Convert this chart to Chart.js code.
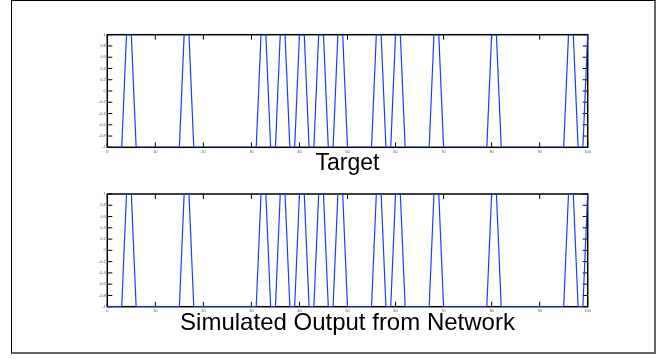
<!DOCTYPE html>
<html lang="en">
<head>
  <meta charset="UTF-8" />
  <title>Target vs Simulated Output</title>
  <script src="https://cdn.jsdelivr.net/npm/chart.js"></script>
  <style>
    body {
      margin: 0;
      background-color: white;
      width: 662px;
      height: 359px;
      position: relative;
      overflow: hidden;
    }
    .frame {
      position: absolute;
      left: 11px;
      top: 0px;
      width: 642px;
      height: 351px;
      border-left: 1px solid #000;
      border-top: 1px solid #000;
      border-right: 2px solid #666;
      border-bottom: 2px solid #666;
    }
    canvas {
      position: absolute;
      left: 0;
    }
    #targetChart {
      top: 0;
    }
    #outputChart {
      top: 180px;
    }
  </style>
</head>
<body>
  <div class="frame"></div>
  <canvas id="targetChart" width="662" height="180"></canvas>
  <canvas id="outputChart" width="662" height="179"></canvas>

  <script>
    // sample index (x)
    const steps = [
      0, 1, 2, 3, 4, 5, 6, 7, 8, 9,
      10, 11, 12, 13, 14, 15, 16, 17, 18, 19,
      20, 21, 22, 23, 24, 25, 26, 27, 28, 29,
      30, 31, 32, 33, 34, 35, 36, 37, 38, 39,
      40, 41, 42, 43, 44, 45, 46, 47, 48, 49,
      50, 51, 52, 53, 54, 55, 56, 57, 58, 59,
      60, 61, 62, 63, 64, 65, 66, 67, 68, 69,
      70, 71, 72, 73, 74, 75, 76, 77, 78, 79,
      80, 81, 82, 83, 84, 85, 86, 87, 88, 89,
      90, 91, 92, 93, 94, 95, 96, 97, 98, 99,
      100
    ];

    const targetValues = [
      -1, -1, -1, -1, 1, 1, -1, -1, -1, -1,
      -1, -1, -1, -1, -1, -1, 1, 1, -1, -1,
      -1, -1, -1, -1, -1, -1, -1, -1, -1, -1,
      -1, -1, 1, 1, -1, -1, 1, 1, -1, -1,
      1, 1, -1, -1, 1, 1, -1, -1, 1, 1,
      -1, -1, -1, -1, -1, -1, 1, 1, -1, -1,
      1, 1, -1, -1, -1, -1, -1, -1, 1, 1,
      -1, -1, -1, -1, -1, -1, -1, -1, -1, -1,
      1, 1, -1, -1, -1, -1, -1, -1, -1, -1,
      -1, -1, -1, -1, -1, -1, 1, 1, -1, -1,
      1
    ];

    const outputValues = [
      -1, -1, -1, -1, 1, 1, -1, -1, -1, -1,
      -1, -1, -1, -1, -1, -1, 1, 1, -1, -1,
      -1, -1, -1, -1, -1, -1, -1, -1, -1, -1,
      -1, -1, 1, 1, -1, -1, 1, 1, -1, -1,
      1, 1, -1, -1, 1, 1, -1, -1, 1, 1,
      -1, -1, -1, -1, -1, -1, 1, 1, -1, -1,
      1, 1, -1, -1, -1, -1, -1, -1, 1, 1,
      -1, -1, -1, -1, -1, -1, -1, -1, -1, -1,
      1, 1, -1, -1, -1, -1, -1, -1, -1, -1,
      -1, -1, -1, -1, -1, -1, 1, 1, -1, -1,
      1
    ];

    const xTicks = [0, 10, 20, 30, 40, 50, 60, 70, 80, 90, 100];
    const yTicks = [-1, -0.8, -0.6, -0.4, -0.2, 0, 0.2, 0.4, 0.6, 0.8, 1];
    const yTickLabels = ["-1", "-0.8", "-0.6", "-0.4", "-0.2", "0", "0.2", "0.4", "0.6", "0.8", "1"];

    // matlab-like box with inward ticks on all four sides
    const matlabBox = {
      id: "matlabBox",
      beforeDatasetsDraw(chart) {
        const { ctx, chartArea: a, scales } = chart;
        ctx.save();
        ctx.strokeStyle = "#000";
        ctx.lineWidth = 1.5;
        ctx.strokeRect(a.left, a.top, a.right - a.left, a.bottom - a.top);
        ctx.lineWidth = 1;
        ctx.beginPath();
        xTicks.forEach((v) => {
          const px = scales.x.getPixelForValue(v);
          ctx.moveTo(px, a.bottom);
          ctx.lineTo(px, a.bottom - 5);
          ctx.moveTo(px, a.top);
          ctx.lineTo(px, a.top + 5);
        });
        yTicks.forEach((v) => {
          const py = scales.y.getPixelForValue(v);
          ctx.moveTo(a.left, py);
          ctx.lineTo(a.left + 5, py);
          ctx.moveTo(a.right, py);
          ctx.lineTo(a.right - 5, py);
        });
        ctx.stroke();
        ctx.restore();
      },
    };

    function makeChart(id, values, title, top, bottomGap, titleSize, titlePad) {
      return new Chart(document.getElementById(id), {
        type: "line",
        data: {
          datasets: [
            {
              data: steps.map((x, i) => ({ x: x, y: values[i] })),
              borderColor: "#1a3cff",
              borderWidth: 1.2,
              pointRadius: 0,
              tension: 0,
              fill: false,
            },
          ],
        },
        options: {
          responsive: false,
          animation: false,
          devicePixelRatio: 1,
          layout: { padding: { left: 0, top: top, right: 74.3, bottom: 0 } },
          plugins: {
            legend: { display: false },
            tooltip: { enabled: false },
          },
          scales: {
            x: {
              type: "linear",
              min: 0,
              max: 100,
              afterBuildTicks: (s) => {
                s.ticks = xTicks.map((v) => ({ value: v }));
              },
              afterFit: (s) => {
                s.height = bottomGap;
              },
              grid: { display: false, drawTicks: false },
              border: { display: false },
              ticks: {
                maxRotation: 0,
                autoSkip: false,
                padding: 2,
                color: "#555",
                font: { family: "Liberation Sans, Arial, sans-serif", size: 4 },
              },
              title: {
                display: true,
                text: title,
                color: "#000",
                font: { family: "Liberation Sans, Arial, sans-serif", size: titleSize, lineHeight: 1 },
                padding: { top: 0, bottom: titlePad },
              },
            },
            y: {
              min: -1,
              max: 1,
              afterBuildTicks: (s) => {
                s.ticks = yTicks.map((v) => ({ value: v }));
              },
              afterFit: (s) => {
                s.width = 107.3;
              },
              grid: { display: false, drawTicks: false },
              border: { display: false },
              ticks: {
                padding: 1.5,
                color: "#555",
                font: { family: "Liberation Sans, Arial, sans-serif", size: 4 },
                callback: (v, i) => yTickLabels[i],
              },
            },
          },
        },
        plugins: [matlabBox],
      });
    }

    // top: area 34.7..147.3 ; bottom: area 14..126.7 (canvas coords)
    makeChart("targetChart", targetValues, "Target", 34.7, 180 - 147.3, 23, 5.2);
    makeChart("outputChart", outputValues, "Simulated Output from Network", 14, 179 - 126.7, 24, 23.7);
  </script>
</body>
</html>
